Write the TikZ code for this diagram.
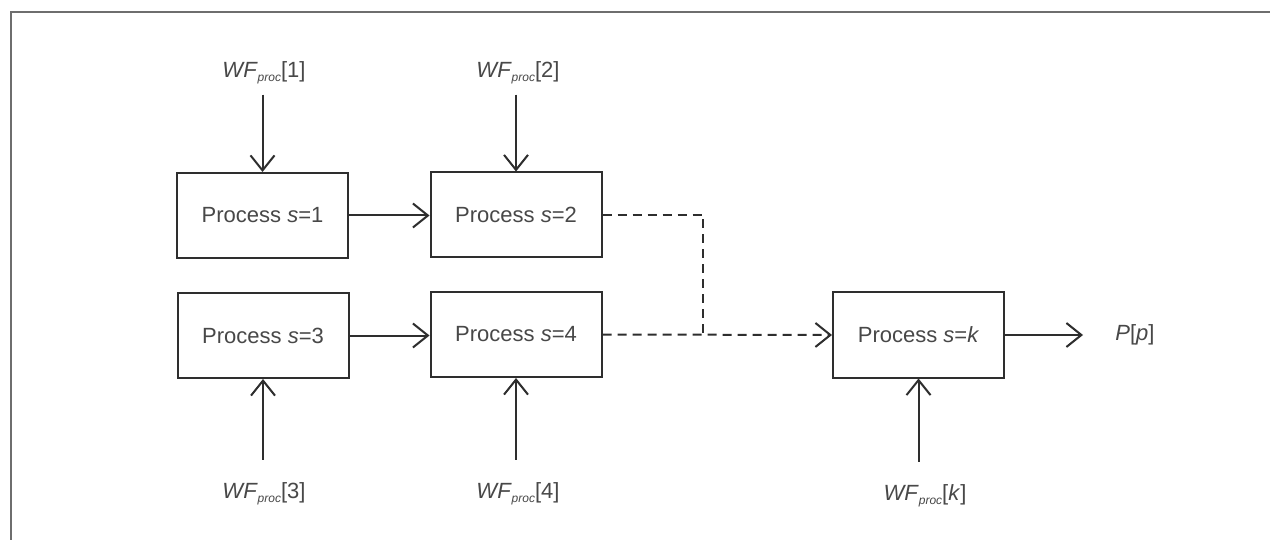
\documentclass[tikz,border=0pt]{standalone}
\usepackage{fontspec}
\setmainfont{Liberation Sans}
\usetikzlibrary{arrows.meta}
\definecolor{textc}{HTML}{484848}
\definecolor{linec}{HTML}{2E2E2E}
\definecolor{framec}{HTML}{6E6E6E}
\newcommand{\wfl}[1]{\textit{WF}\raisebox{-4pt}{\fontsize{12}{13}\selectfont\itshape proc}#1}
\begin{document}
\begin{tikzpicture}[x=1pt,y=-1pt,
  box/.style={draw=linec, line width=2pt, minimum width=171pt, minimum height=85pt, inner sep=0pt, text=textc, font=\fontsize{22}{26}\selectfont},
  lbl/.style={text=textc, font=\fontsize{22}{26}\selectfont, inner sep=0pt},
  arr/.style={draw=linec, line width=2pt, -{Straight Barb[length=15pt,width=24pt,line width=2pt]}},
  dashline/.style={draw=linec, line width=2pt, dash pattern=on 9pt off 6pt},
]
\useasboundingbox (0,0) rectangle (1270,540);
\fill[white] (0,0) rectangle (1270,540);
\draw[framec, line width=2.5pt] (11,540) -- (11,12) -- (1270,12);

\node[box] (p1) at (262.5,215.5) {Process \textit{s}=1};
\node[box] (p2) at (516,215) {Process \textit{s}=2};
\node[box] (p3) at (263,335.5) {Process \textit{s}=3};
\node[box] (p4) at (516,334.5) {Process \textit{s}=4};
\node[box] (pk) at (918.5,335) {Process \textit{s}=\textit{k}};

\node[lbl, anchor=base] (wf1) at (264,78) {\wfl{[1]}};
\node[lbl, anchor=base] (wf2) at (518,78) {\wfl{[2]}};
\node[lbl, anchor=base] (wf3) at (264,498) {\wfl{[3]}};
\node[lbl, anchor=base] (wf4) at (518,498) {\wfl{[4]}};
\node[lbl, anchor=base] (wfk) at (925,500) {\wfl{[\textit{k}]}};
\node[lbl] (out) at (1135,335) {\textit{P}[\textit{p}]};

\draw[arr, shorten <=10pt] (wf1.south -| p1) -- (p1.north);
\draw[arr, shorten <=10pt] (wf2.south -| p2) -- (p2.north);
\draw[arr, shorten <=22pt] (wf3.north -| p3) -- (p3.south);
\draw[arr, shorten <=22pt] (wf4.north -| p4) -- (p4.south);
\draw[arr, shorten <=22pt] (wfk.north -| pk) -- (pk.south);

\draw[arr] (p1.east) -- (p2.west |- p1.east);
\draw[arr] (p3.east) -- (p4.west |- p3.east);
\draw[arr] (pk.east) -- ++(78,0) coordinate (outtip);

\coordinate (j) at (703,335);
\draw[dashline] (p2.east) -| (j);
\draw[dashline, -{Straight Barb[length=15pt,width=24pt,line width=2pt]}] (p4.east) -- (pk.west);
\end{tikzpicture}
\end{document}
